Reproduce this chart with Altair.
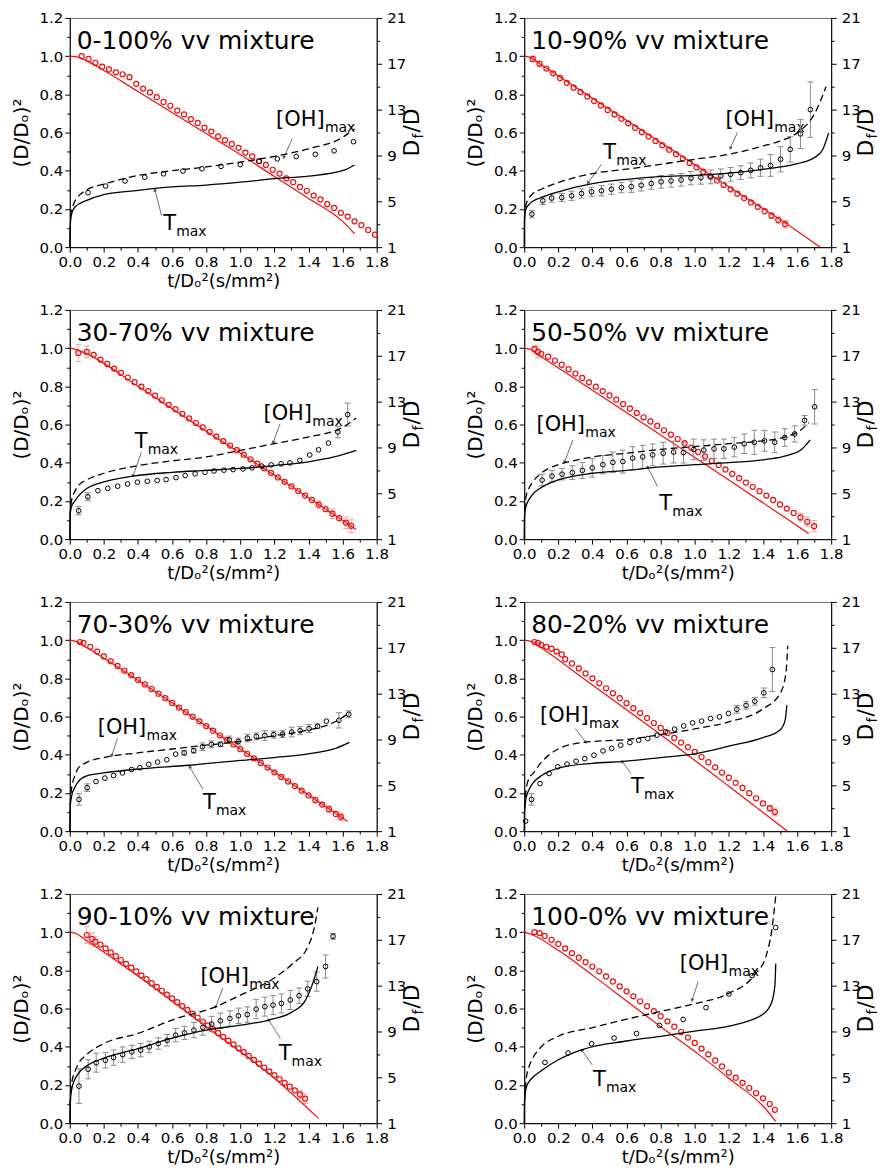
import math
import altair as alt
import pandas as pd

# ---------------- tick values / labels ----------------
X_TICKS = [0.0, 0.1, 0.2, 0.3, 0.4, 0.5, 0.6, 0.7, 0.8, 0.9, 1.0, 1.1, 1.2, 1.3, 1.4, 1.5, 1.6, 1.7, 1.8]
YL_TICKS = [0.0, 0.1, 0.2, 0.3, 0.4, 0.5, 0.6, 0.7, 0.8, 0.9, 1.0, 1.1, 1.2]
YR_TICKS = [1, 3, 5, 7, 9, 11, 13, 15, 17, 19, 21]

LABELS = ["0-100% vv mixture", "10-90% vv mixture", "30-70% vv mixture", "50-50% vv mixture",
          "70-30% vv mixture", "80-20% vv mixture", "90-10% vv mixture", "100-0% vv mixture"]

# ---------------- panel 1 : 0-100% ----------------
P1_RED_X = [0.07, 0.11, 0.15, 0.19, 0.23, 0.27, 0.31, 0.35, 0.39, 0.43, 0.47, 0.51, 0.55, 0.59, 0.63, 0.67, 0.71, 0.75, 0.79, 0.83, 0.87, 0.91, 0.95, 0.99, 1.03, 1.07, 1.11, 1.15, 1.19, 1.23, 1.27, 1.31, 1.35, 1.39, 1.43, 1.47, 1.51, 1.55, 1.59, 1.63, 1.67, 1.71, 1.75, 1.79]
P1_RED_Y = [1.0, 0.985, 0.965, 0.945, 0.93, 0.915, 0.905, 0.89, 0.855, 0.83, 0.81, 0.785, 0.76, 0.74, 0.715, 0.695, 0.67, 0.65, 0.625, 0.605, 0.58, 0.56, 0.54, 0.52, 0.495, 0.475, 0.45, 0.43, 0.405, 0.385, 0.36, 0.34, 0.315, 0.295, 0.27, 0.25, 0.225, 0.205, 0.18, 0.16, 0.135, 0.115, 0.09, 0.065]
P1_FIT_X = [0.0, 0.05, 0.1, 0.2, 0.4, 0.6, 0.8, 1.0, 1.2, 1.4, 1.6, 1.67]
P1_FIT_Y = [1.0, 0.995, 0.975, 0.925, 0.815, 0.705, 0.595, 0.485, 0.37, 0.255, 0.135, 0.07]
P1_REB_X, P1_REB_Y, P1_REB_E = [], [], []
P1_DF_X = [0.107, 0.21, 0.324, 0.44, 0.55, 0.664, 0.775, 0.887, 1.0, 1.11, 1.217, 1.328, 1.44, 1.55, 1.664]
P1_DF_Y = [5.75, 6.33, 6.77, 7.1, 7.4, 7.64, 7.84, 8.05, 8.2, 8.5, 8.7, 8.9, 9.1, 9.4, 10.2]
P1_DF_E = [0, 0, 0, 0, 0, 0, 0, 0, 0, 0, 0, 0, 0, 0, 0]
P1_T_X = [0.0, 0.002, 0.01, 0.03, 0.1, 0.2, 0.4, 0.6, 0.8, 1.0, 1.2, 1.4, 1.6, 1.67]
P1_T_Y = [1.0, 2.67, 3.83, 4.5, 5.08, 5.58, 5.95, 6.25, 6.42, 6.67, 6.97, 7.2, 7.67, 8.17]
P1_OH_X = [0.003, 0.02, 0.05, 0.1, 0.2, 0.4, 0.6, 0.8, 1.0, 1.2, 1.4, 1.6, 1.67]
P1_OH_Y = [3.67, 4.67, 5.42, 6.0, 6.5, 7.25, 7.67, 8.0, 8.42, 8.92, 9.58, 10.58, 11.33]

# ---------------- panel 2 : 10-90% ----------------
P2_RED_X = [0.05, 0.09, 0.13, 0.17, 0.21, 0.25, 0.29, 0.33, 0.37, 0.41, 0.45, 0.49, 0.53, 0.57, 0.61, 0.65, 0.69, 0.73, 0.77, 0.81, 0.85, 0.89, 0.93, 0.97, 1.01, 1.05, 1.09, 1.13, 1.17, 1.21, 1.25, 1.29, 1.33, 1.37, 1.41, 1.45, 1.49, 1.53]
P2_RED_Y = [0.985, 0.96, 0.935, 0.91, 0.885, 0.86, 0.835, 0.812, 0.789, 0.765, 0.742, 0.718, 0.695, 0.672, 0.648, 0.625, 0.602, 0.579, 0.556, 0.533, 0.51, 0.487, 0.464, 0.441, 0.418, 0.395, 0.372, 0.349, 0.326, 0.303, 0.28, 0.257, 0.234, 0.211, 0.188, 0.165, 0.142, 0.12]
P2_FIT_X = [0.0, 0.03, 0.1, 0.4, 0.8, 1.2, 1.6, 1.735]
P2_FIT_Y = [1.0, 0.995, 0.955, 0.78, 0.548, 0.316, 0.085, 0.0]
P2_REB_X = [0.05, 0.09, 1.45, 1.49, 1.53]
P2_REB_Y = [0.985, 0.96, 0.165, 0.142, 0.12]
P2_REB_E = [0.015, 0.015, 0.015, 0.02, 0.02]
P2_DF_X = [0.045, 0.109, 0.161, 0.22, 0.278, 0.336, 0.395, 0.453, 0.511, 0.57, 0.628, 0.686, 0.745, 0.803, 0.861, 0.92, 0.978, 1.036, 1.094, 1.153, 1.21, 1.27, 1.328, 1.386, 1.444, 1.503, 1.56, 1.62, 1.678]
P2_DF_Y = [3.88, 5.05, 5.28, 5.33, 5.48, 5.68, 5.83, 5.92, 6.05, 6.2, 6.28, 6.4, 6.55, 6.7, 6.78, 6.87, 7.02, 7.07, 7.13, 7.22, 7.35, 7.5, 7.7, 7.93, 8.13, 8.67, 9.53, 10.88, 13.0]
P2_DF_E = [0.33, 0.33, 0.35, 0.35, 0.4, 0.4, 0.4, 0.45, 0.45, 0.45, 0.5, 0.5, 0.5, 0.55, 0.55, 0.55, 0.58, 0.58, 0.6, 0.6, 0.6, 0.6, 0.65, 0.75, 0.95, 1.1, 1.1, 1.27, 2.42]
P2_T_X = [0.0, 0.002, 0.01, 0.03, 0.05, 0.1, 0.2, 0.4, 0.6, 0.8, 1.0, 1.2, 1.4, 1.6, 1.7, 1.75, 1.785]
P2_T_Y = [1.0, 3.83, 4.33, 4.75, 5.0, 5.33, 5.83, 6.55, 6.92, 7.15, 7.27, 7.45, 7.78, 8.28, 8.8, 9.5, 10.97]
P2_OH_X = [0.002, 0.01, 0.03, 0.05, 0.1, 0.2, 0.4, 0.6, 0.8, 1.0, 1.2, 1.4, 1.5, 1.6, 1.7, 1.77]
P2_OH_Y = [3.5, 4.67, 5.33, 5.67, 6.05, 6.63, 7.42, 7.8, 8.23, 8.67, 9.1, 9.83, 10.25, 10.97, 12.57, 15.0]

# ---------------- panel 3 : 30-70% ----------------
P3_RED_X = [0.05, 0.10, 0.14, 0.18, 0.22, 0.26, 0.30, 0.34, 0.38, 0.42, 0.46, 0.50, 0.54, 0.58, 0.62, 0.66, 0.70, 0.74, 0.78, 0.82, 0.86, 0.90, 0.94, 0.98, 1.02, 1.06, 1.10, 1.14, 1.18, 1.22, 1.26, 1.30, 1.34, 1.38, 1.42, 1.46, 1.50, 1.54, 1.58, 1.62, 1.65]
P3_RED_Y = [0.975, 0.98, 0.965, 0.94, 0.917, 0.893, 0.87, 0.846, 0.822, 0.798, 0.775, 0.751, 0.727, 0.703, 0.68, 0.656, 0.632, 0.608, 0.585, 0.561, 0.537, 0.513, 0.49, 0.466, 0.442, 0.418, 0.395, 0.371, 0.347, 0.323, 0.3, 0.276, 0.252, 0.228, 0.205, 0.181, 0.157, 0.133, 0.11, 0.086, 0.07]
P3_FIT_X = [0.0, 0.03, 0.1, 0.4, 0.8, 1.2, 1.68]
P3_FIT_Y = [1.0, 0.995, 0.97, 0.8, 0.565, 0.335, 0.05]
P3_REB_X = [0.05, 0.10, 1.46, 1.54, 1.62, 1.65]
P3_REB_Y = [0.975, 0.98, 0.181, 0.133, 0.086, 0.07]
P3_REB_E = [0.045, 0.03, 0.02, 0.025, 0.03, 0.035]
P3_DF_X = [0.052, 0.106, 0.165, 0.223, 0.281, 0.339, 0.397, 0.455, 0.513, 0.565, 0.623, 0.677, 0.735, 0.793, 0.846, 0.904, 0.958, 1.016, 1.068, 1.126, 1.181, 1.239, 1.291, 1.349, 1.407, 1.459, 1.517, 1.572, 1.63]
P3_DF_Y = [3.48, 4.7, 5.23, 5.43, 5.62, 5.82, 5.97, 6.05, 6.12, 6.2, 6.37, 6.55, 6.7, 6.83, 6.95, 7.02, 7.07, 7.13, 7.22, 7.37, 7.48, 7.57, 7.65, 7.88, 8.35, 8.8, 9.38, 10.35, 11.87]
P3_DF_E = [0.35, 0.35, 0, 0, 0, 0, 0, 0, 0, 0, 0, 0, 0, 0, 0, 0, 0, 0, 0, 0, 0, 0, 0, 0, 0, 0, 0, 0.5, 1.0]
P3_T_X = [0.0, 0.002, 0.01, 0.03, 0.05, 0.1, 0.2, 0.37, 0.6, 0.8, 1.0, 1.2, 1.4, 1.55, 1.68]
P3_T_Y = [1.0, 3.17, 3.83, 4.33, 4.75, 5.42, 6.0, 6.5, 6.83, 7.0, 7.17, 7.42, 7.75, 8.17, 8.75]
P3_OH_X = [0.002, 0.01, 0.03, 0.05, 0.1, 0.2, 0.4, 0.6, 0.8, 1.0, 1.2, 1.4, 1.6, 1.68]
P3_OH_Y = [3.0, 4.33, 5.17, 5.67, 6.17, 6.75, 7.42, 7.83, 8.17, 8.75, 9.33, 9.92, 10.75, 11.58]

# ---------------- panel 4 : 50-50% ----------------
P4_RED_X = [0.06, 0.08, 0.10, 0.14, 0.18, 0.22, 0.26, 0.30, 0.34, 0.38, 0.42, 0.46, 0.50, 0.54, 0.58, 0.62, 0.66, 0.70, 0.74, 0.78, 0.82, 0.86, 0.90, 0.94, 0.98, 1.02, 1.06, 1.10, 1.14, 1.18, 1.22, 1.26, 1.30, 1.34, 1.38, 1.42, 1.46, 1.50, 1.54, 1.58, 1.62, 1.66, 1.70]
P4_RED_Y = [0.995, 0.98, 0.97, 0.955, 0.935, 0.913, 0.89, 0.867, 0.844, 0.821, 0.798, 0.775, 0.752, 0.73, 0.707, 0.684, 0.661, 0.638, 0.616, 0.593, 0.57, 0.547, 0.524, 0.502, 0.479, 0.456, 0.433, 0.41, 0.388, 0.365, 0.342, 0.319, 0.296, 0.274, 0.251, 0.228, 0.205, 0.182, 0.16, 0.137, 0.114, 0.091, 0.068]
P4_FIT_X = [0.0, 0.03, 0.1, 0.4, 0.8, 1.2, 1.668]
P4_FIT_Y = [1.0, 0.995, 0.955, 0.78, 0.545, 0.31, 0.03]
P4_REB_X = [0.06, 0.08, 1.62, 1.66, 1.70]
P4_REB_Y = [0.995, 0.98, 0.114, 0.091, 0.068]
P4_REB_E = [0.02, 0.03, 0.02, 0.025, 0.03]
P4_DF_X = [0.105, 0.163, 0.222, 0.282, 0.341, 0.399, 0.461, 0.52, 0.578, 0.636, 0.695, 0.753, 0.815, 0.876, 0.934, 0.994, 1.053, 1.113, 1.171, 1.232, 1.29, 1.349, 1.409, 1.469, 1.528, 1.586, 1.644, 1.703]
P4_DF_Y = [6.15, 6.5, 6.67, 6.8, 7.0, 7.22, 7.5, 7.7, 7.77, 8.07, 8.18, 8.35, 8.5, 8.6, 8.55, 8.83, 8.77, 8.88, 8.88, 9.03, 9.32, 9.45, 9.58, 9.45, 9.87, 10.18, 11.37, 12.55]
P4_DF_E = [0.5, 0.5, 0.5, 0.6, 0.7, 0.8, 0.8, 0.9, 1.0, 1.0, 1.0, 0.95, 0.95, 0.95, 0.9, 0.9, 0.9, 0.85, 0.85, 0.85, 0.85, 1.05, 0.9, 0.9, 0.77, 0.7, 0.42, 1.5]
P4_T_X = [0.0, 0.002, 0.01, 0.03, 0.05, 0.1, 0.2, 0.4, 0.6, 0.8, 1.0, 1.2, 1.4, 1.55, 1.62, 1.677]
P4_T_Y = [1.0, 3.0, 3.83, 4.5, 4.92, 5.5, 6.17, 6.75, 7.0, 7.3, 7.5, 7.67, 7.92, 8.33, 8.75, 9.67]
P4_OH_X = [0.002, 0.01, 0.03, 0.05, 0.1, 0.2, 0.24, 0.4, 0.6, 0.8, 1.0, 1.2, 1.4, 1.55, 1.62, 1.67]
P4_OH_Y = [3.5, 4.67, 5.5, 6.0, 6.75, 7.5, 7.67, 8.17, 8.5, 8.83, 9.08, 9.33, 9.58, 10.0, 10.5, 11.17]

# ---------------- panel 5 : 70-30% ----------------
P5_RED_X = [0.06, 0.08, 0.12, 0.16, 0.20, 0.24, 0.28, 0.32, 0.36, 0.40, 0.44, 0.48, 0.52, 0.56, 0.60, 0.64, 0.68, 0.72, 0.76, 0.80, 0.84, 0.88, 0.92, 0.96, 1.00, 1.04, 1.08, 1.12, 1.16, 1.20, 1.24, 1.28, 1.32, 1.36, 1.40, 1.44, 1.48, 1.52, 1.56, 1.59]
P5_RED_Y = [0.99, 0.985, 0.965, 0.94, 0.915, 0.89, 0.865, 0.841, 0.817, 0.792, 0.768, 0.744, 0.72, 0.696, 0.671, 0.647, 0.623, 0.599, 0.575, 0.55, 0.526, 0.502, 0.478, 0.454, 0.429, 0.405, 0.381, 0.357, 0.333, 0.308, 0.284, 0.26, 0.236, 0.212, 0.187, 0.163, 0.139, 0.115, 0.09, 0.075]
P5_FIT_X = [0.0, 0.03, 0.1, 0.4, 0.8, 1.2, 1.63]
P5_FIT_Y = [1.0, 0.995, 0.96, 0.79, 0.55, 0.31, 0.05]
P5_REB_X = [1.44, 1.52, 1.59]
P5_REB_Y = [0.163, 0.115, 0.075]
P5_REB_E = [0.015, 0.02, 0.02]
P5_DF_X = [0.054, 0.102, 0.154, 0.206, 0.257, 0.309, 0.363, 0.411, 0.463, 0.515, 0.569, 0.621, 0.671, 0.727, 0.778, 0.83, 0.884, 0.936, 0.988, 1.042, 1.094, 1.144, 1.196, 1.248, 1.302, 1.351, 1.403, 1.453, 1.505, 1.578, 1.636]
P5_DF_Y = [3.77, 4.8, 5.33, 5.63, 5.85, 6.08, 6.38, 6.53, 6.83, 7.03, 7.23, 7.72, 7.83, 8.02, 8.37, 8.58, 8.58, 8.97, 8.82, 9.12, 9.27, 9.35, 9.42, 9.47, 9.65, 9.77, 9.95, 10.15, 10.6, 10.67, 11.2]
P5_DF_E = [0.5, 0.33, 0, 0, 0, 0, 0, 0, 0, 0, 0, 0, 0.2, 0.2, 0.33, 0.3, 0.2, 0.33, 0.3, 0.33, 0.3, 0.42, 0.3, 0.3, 0.42, 0.35, 0.35, 0.2, 0, 0.67, 0.3]
P5_T_X = [0.0, 0.002, 0.01, 0.03, 0.05, 0.1, 0.2, 0.4, 0.7, 1.0, 1.2, 1.4, 1.55, 1.64]
P5_T_Y = [1.0, 3.0, 4.0, 4.83, 5.33, 5.83, 6.08, 6.42, 6.75, 7.17, 7.42, 7.75, 8.17, 8.75]
P5_OH_X = [0.002, 0.01, 0.03, 0.05, 0.1, 0.2, 0.4, 0.6, 0.8, 1.0, 1.2, 1.4, 1.55, 1.64]
P5_OH_Y = [3.33, 4.67, 5.83, 6.5, 7.0, 7.42, 7.83, 8.17, 8.5, 8.83, 9.33, 9.83, 10.5, 11.33]

# ---------------- panel 6 : 80-20% ----------------
P6_RED_X = [0.06, 0.08, 0.10, 0.13, 0.16, 0.19, 0.22, 0.24, 0.28, 0.32, 0.36, 0.40, 0.44, 0.48, 0.52, 0.56, 0.60, 0.64, 0.68, 0.72, 0.76, 0.80, 0.84, 0.88, 0.92, 0.96, 1.00, 1.04, 1.08, 1.12, 1.16, 1.20, 1.24, 1.28, 1.32, 1.36, 1.40, 1.44, 1.47]
P6_RED_Y = [0.99, 0.985, 0.975, 0.965, 0.955, 0.94, 0.925, 0.9, 0.878, 0.852, 0.826, 0.8, 0.774, 0.748, 0.722, 0.696, 0.67, 0.644, 0.618, 0.592, 0.566, 0.54, 0.514, 0.488, 0.464, 0.44, 0.415, 0.388, 0.361, 0.334, 0.307, 0.28, 0.253, 0.226, 0.199, 0.172, 0.145, 0.12, 0.1]
P6_FIT_X = [0.0, 0.05, 0.1, 0.4, 0.8, 1.2, 1.543]
P6_FIT_Y = [1.0, 0.99, 0.96, 0.765, 0.505, 0.235, 0.0]
P6_REB_X = [1.44, 1.47]
P6_REB_Y = [0.12, 0.1]
P6_REB_E = [0.015, 0.02]
P6_DF_X = [0.008, 0.043, 0.093, 0.146, 0.197, 0.251, 0.304, 0.355, 0.409, 0.462, 0.513, 0.566, 0.62, 0.671, 0.724, 0.778, 0.829, 0.882, 0.935, 0.987, 1.04, 1.093, 1.145, 1.198, 1.247, 1.301, 1.352, 1.405, 1.455]
P6_DF_Y = [1.87, 3.77, 5.15, 6.03, 6.62, 6.85, 7.1, 7.33, 7.63, 8.0, 8.22, 8.5, 8.73, 8.93, 9.08, 9.37, 9.67, 9.9, 10.18, 10.45, 10.6, 10.83, 10.97, 11.27, 11.63, 11.98, 12.33, 13.07, 15.1]
P6_DF_E = [0, 0.5, 0, 0, 0, 0, 0, 0, 0, 0, 0, 0, 0, 0, 0, 0, 0, 0, 0, 0, 0, 0, 0, 0, 0.33, 0.33, 0.33, 0.42, 1.92]
P6_T_X = [0.0, 0.002, 0.01, 0.03, 0.05, 0.1, 0.2, 0.4, 0.58, 0.8, 1.0, 1.2, 1.4, 1.5, 1.53, 1.54]
P6_T_Y = [1.0, 2.67, 3.83, 4.67, 5.17, 5.83, 6.5, 6.92, 7.08, 7.42, 7.75, 8.42, 9.17, 9.83, 10.67, 12.0]
P6_OH_X = [0.002, 0.01, 0.03, 0.05, 0.1, 0.2, 0.35, 0.6, 0.8, 1.0, 1.2, 1.4, 1.5, 1.535, 1.545]
P6_OH_Y = [3.0, 4.5, 5.67, 6.0, 7.0, 8.17, 8.75, 9.0, 9.42, 9.92, 10.53, 11.67, 13.0, 14.83, 17.17]

# ---------------- panel 7 : 90-10% ----------------
P7_RED_X = [0.10, 0.13, 0.15, 0.18, 0.21, 0.24, 0.27, 0.30, 0.33, 0.36, 0.39, 0.42, 0.45, 0.48, 0.51, 0.54, 0.57, 0.60, 0.63, 0.66, 0.69, 0.72, 0.75, 0.78, 0.81, 0.84, 0.87, 0.90, 0.93, 0.96, 0.99, 1.02, 1.05, 1.08, 1.11, 1.14, 1.17, 1.20, 1.23, 1.26, 1.29, 1.32, 1.35, 1.38]
P7_RED_Y = [0.985, 0.965, 0.95, 0.935, 0.915, 0.894, 0.874, 0.854, 0.834, 0.814, 0.794, 0.774, 0.754, 0.733, 0.713, 0.693, 0.673, 0.653, 0.633, 0.613, 0.593, 0.573, 0.553, 0.532, 0.512, 0.492, 0.472, 0.452, 0.432, 0.412, 0.392, 0.372, 0.352, 0.331, 0.311, 0.291, 0.271, 0.251, 0.231, 0.211, 0.191, 0.171, 0.15, 0.128]
P7_FIT_X = [0.0, 0.03, 0.1, 0.4, 0.8, 1.2, 1.457]
P7_FIT_Y = [1.0, 0.995, 0.955, 0.77, 0.505, 0.235, 0.026]
P7_REB_X = [0.10, 0.13, 0.15, 1.35, 1.38]
P7_REB_Y = [0.985, 0.965, 0.95, 0.15, 0.128]
P7_REB_E = [0.045, 0.03, 0.025, 0.02, 0.025]
P7_DF_X = [0.054, 0.108, 0.155, 0.209, 0.257, 0.31, 0.364, 0.416, 0.466, 0.519, 0.571, 0.621, 0.673, 0.728, 0.78, 0.832, 0.883, 0.939, 0.989, 1.041, 1.093, 1.144, 1.192, 1.241, 1.293, 1.345, 1.395, 1.448, 1.5, 1.544]
P7_DF_Y = [4.23, 5.7, 6.28, 6.48, 6.72, 6.98, 7.22, 7.37, 7.65, 7.95, 8.23, 8.68, 8.88, 9.12, 9.35, 9.65, 9.93, 10.13, 10.37, 10.48, 10.95, 11.17, 11.3, 11.45, 11.75, 12.12, 12.72, 13.35, 14.67, 17.3]
P7_DF_E = [1.5, 0.83, 0.83, 0.67, 0.67, 0.67, 0.58, 0.58, 0.5, 0.5, 0.5, 0.58, 0.58, 0.67, 0.67, 0.67, 0.67, 0.67, 0.67, 0.67, 0.83, 0.83, 0.83, 0.83, 0.83, 0.67, 0.67, 0.83, 1.0, 0.25]
P7_T_X = [0.0, 0.002, 0.01, 0.03, 0.05, 0.1, 0.2, 0.4, 0.6, 0.8, 1.0, 1.167, 1.3, 1.38, 1.42, 1.455]
P7_T_Y = [1.0, 2.5, 3.83, 4.83, 5.33, 6.0, 6.67, 7.5, 8.42, 9.12, 9.55, 10.0, 10.67, 11.67, 13.0, 14.67]
P7_OH_X = [0.002, 0.01, 0.03, 0.05, 0.1, 0.2, 0.4, 0.6, 0.857, 1.0, 1.2, 1.3, 1.4, 1.44, 1.455]
P7_OH_Y = [2.67, 4.33, 5.5, 6.17, 7.0, 7.95, 8.83, 10.0, 11.17, 12.17, 13.67, 14.83, 16.5, 18.5, 19.83]

# ---------------- panel 8 : 100-0% ----------------
P8_RED_X = [0.06, 0.09, 0.12, 0.16, 0.20, 0.24, 0.28, 0.32, 0.36, 0.40, 0.44, 0.48, 0.52, 0.56, 0.60, 0.64, 0.68, 0.72, 0.76, 0.80, 0.84, 0.88, 0.92, 0.96, 1.00, 1.04, 1.08, 1.12, 1.16, 1.20, 1.24, 1.28, 1.32, 1.36, 1.40, 1.44, 1.47]
P8_RED_Y = [1.0, 0.995, 0.98, 0.96, 0.938, 0.915, 0.89, 0.866, 0.843, 0.82, 0.795, 0.768, 0.742, 0.716, 0.69, 0.664, 0.638, 0.612, 0.586, 0.56, 0.533, 0.505, 0.477, 0.448, 0.42, 0.39, 0.36, 0.328, 0.297, 0.265, 0.238, 0.211, 0.184, 0.157, 0.13, 0.1, 0.07]
P8_FIT_X = [0.0, 0.05, 0.2, 0.4, 0.6, 0.8, 1.0, 1.18, 1.2, 1.4, 1.475]
P8_FIT_Y = [1.0, 0.985, 0.905, 0.775, 0.64, 0.505, 0.375, 0.25, 0.235, 0.09, 0.01]
P8_REB_X, P8_REB_Y, P8_REB_E = [], [], []
P8_DF_X = [0.122, 0.257, 0.395, 0.527, 0.659, 0.793, 0.932, 1.066, 1.2, 1.336, 1.474]
P8_DF_Y = [6.3, 7.12, 7.93, 8.43, 8.82, 9.53, 10.05, 11.08, 12.27, 13.88, 18.07]
P8_DF_E = [0, 0, 0, 0, 0, 0, 0, 0, 0, 0, 0]
P8_T_X = [0.0, 0.002, 0.01, 0.03, 0.05, 0.1, 0.2, 0.34, 0.6, 0.8, 1.0, 1.2, 1.4, 1.45, 1.47, 1.475]
P8_T_Y = [1.0, 3.0, 4.0, 4.67, 5.0, 5.58, 6.53, 7.42, 8.17, 8.58, 9.03, 9.47, 10.5, 11.5, 13.0, 14.92]
P8_OH_X = [0.002, 0.01, 0.03, 0.05, 0.1, 0.2, 0.4, 0.6, 0.8, 1.0, 1.2, 1.35, 1.42, 1.45, 1.475]
P8_OH_Y = [3.0, 4.67, 6.0, 6.67, 7.67, 8.58, 9.33, 10.07, 10.75, 11.42, 12.33, 13.92, 15.67, 17.67, 20.83]

# annotation anchors (left-axis units): text x, text y, arrow start x/y, arrow end x/y
OH_NOTES = [(1.21, 0.664, 1.305, 0.568, 1.256, 0.472), (1.18, 0.667, 1.25, 0.60, 1.21, 0.52),
            (1.136, 0.657, 1.233, 0.604, 1.194, 0.508), (0.072, 0.597, 0.286, 0.52, 0.237, 0.406),
            (0.164, 0.54, 0.28, 0.486, 0.247, 0.398), (0.093, 0.602, 0.3, 0.537, 0.359, 0.467),
            (0.766, 0.767, 0.896, 0.706, 0.857, 0.61), (0.912, 0.835, 1.02, 0.741, 0.985, 0.646)]
T_NOTES = [(0.548, 0.119, 0.538, 0.166, 0.5, 0.297), (0.463, 0.494, 0.453, 0.434, 0.375, 0.338),
           (0.381, 0.508, 0.42, 0.455, 0.372, 0.333), (0.792, 0.183, 0.782, 0.275, 0.724, 0.377),
           (0.781, 0.148, 0.781, 0.219, 0.704, 0.335), (0.626, 0.232, 0.626, 0.302, 0.576, 0.363),
           (1.225, 0.364, 1.235, 0.443, 1.167, 0.54), (0.403, 0.226, 0.399, 0.305, 0.339, 0.381)]

G = globals()
PANELS = []
for k in range(1, 9):
    PANELS.append({key: G[f"P{k}_{key}"] for key in
                   ["RED_X", "RED_Y", "FIT_X", "FIT_Y", "REB_X", "REB_Y", "REB_E",
                    "DF_X", "DF_Y", "DF_E", "T_X", "T_Y", "OH_X", "OH_Y"]})

# ---------------- styling ----------------
W, H = 308, 230
FONT = "DejaVu Sans"
RED = "#f00d0d"
RED_LIGHT = "#f3a3a3"
GREY = "#8a8a8a"
ARROW = "#4a4a4a"

XS = alt.Scale(domain=[0, 1.8], nice=False, zero=False)
YLS = alt.Scale(domain=[0, 1.2], nice=False, zero=False)
YRS = alt.Scale(domain=[1, 21], nice=False, zero=False)


def x_axis(with_title):
    kw = dict(values=X_TICKS, orient="bottom",
              labelExpr="round(datum.value*10) % 2 == 0 ? format(datum.value, '.1f') : ''",
              tickSize={"condition": {"test": "round(datum.value*10) % 2 == 1", "value": 3}, "value": 5},
              labelFlush=False, labelOverlap=False, labelPadding=2, titlePadding=3)
    kw["title"] = "t/D\u2092\u00b2(s/mm\u00b2)" if with_title else None
    return alt.Axis(**kw)


YL_AXIS = alt.Axis(values=YL_TICKS, orient="left", title="(D/D\u2092)\u00b2",
                   labelExpr="round(datum.value*10) % 2 == 0 ? format(datum.value, '.1f') : ''",
                   tickSize={"condition": {"test": "round(datum.value*10) % 2 == 1", "value": 3}, "value": 5},
                   labelOverlap=False, labelPadding=2, titlePadding=8)
YR_AXIS = alt.Axis(values=YR_TICKS, orient="right", title=None,
                   labelExpr="(round(datum.value) - 1) % 4 == 0 ? format(datum.value, 'd') : ''",
                   tickSize={"condition": {"test": "(round(datum.value) - 1) % 4 != 0", "value": 3}, "value": 5},
                   labelOverlap=False, labelPadding=5)


def head_angle(x1, y1, x2, y2):
    dxp = (x2 - x1) * W / 1.8
    dyp = -(y2 - y1) * H / 1.2
    return math.degrees(math.atan2(dxp, -dyp)) % 360


def build_panel(i, p):
    xax = x_axis(i != 1)

    def X(f):
        return alt.X(f, type="quantitative", scale=XS, axis=xax)

    def YL(f):
        return alt.Y(f, type="quantitative", scale=YLS, axis=YL_AXIS)

    def YR(f):
        return alt.Y(f, type="quantitative", scale=YRS, axis=YR_AXIS)

    one = pd.DataFrame({"a": [0]})

    # ---------- left-axis group ----------
    left = []
    if p["REB_X"]:
        reb = pd.DataFrame({"x": p["REB_X"], "lo": [y - e for y, e in zip(p["REB_Y"], p["REB_E"])],
                            "hi": [y + e for y, e in zip(p["REB_Y"], p["REB_E"])]})
        left.append(alt.Chart(reb).mark_rule(color=RED_LIGHT, strokeWidth=1)
                    .encode(x=X("x"), y=YL("lo"), y2=alt.Y2("hi")))
        for f in ["lo", "hi"]:
            left.append(alt.Chart(reb).mark_tick(orient="horizontal", size=6, thickness=1,
                                                 color=RED_LIGHT, opacity=1)
                        .encode(x=X("x"), y=YL(f)))
    fit = pd.DataFrame({"x": p["FIT_X"], "y": p["FIT_Y"]})
    left.append(alt.Chart(fit).mark_line(color=RED, strokeWidth=1.2, interpolate="monotone")
                .encode(x=X("x"), y=YL("y")))
    red = pd.DataFrame({"x": p["RED_X"], "y": p["RED_Y"]})
    left.append(alt.Chart(red).mark_point(shape="circle", filled=False, color=RED, size=26,
                                          strokeWidth=1.2, opacity=1)
                .encode(x=X("x"), y=YL("y")))

    oh = OH_NOTES[i]
    tn = T_NOTES[i]
    notes = pd.DataFrame({"tx": [oh[0], tn[0]], "ty": [oh[1], tn[1]],
                          "x1": [oh[2], tn[2]], "y1": [oh[3], tn[3]],
                          "x2": [oh[4], tn[4]], "y2": [oh[5], tn[5]],
                          "ang": [head_angle(*oh[2:]), head_angle(*tn[2:])],
                          "main": ["[OH]", "T"]})
    left.append(alt.Chart(notes).mark_rule(color=ARROW, strokeWidth=0.8)
                .encode(x=X("x1"), y=YL("y1"), x2=alt.X2("x2"), y2=alt.Y2("y2")))
    left.append(alt.Chart(notes).mark_point(shape="triangle", filled=True, color=ARROW, size=14, opacity=1)
                .encode(x=X("x2"), y=YL("y2"), angle=alt.Angle("ang", type="quantitative", scale=None)))
    left.append(alt.Chart(notes).mark_text(align="left", baseline="middle", font=FONT, fontSize=21,
                                           color="black")
                .encode(x=X("tx"), y=YL("ty"), text=alt.Text("main", type="nominal")))
    left.append(alt.Chart(notes.iloc[[0]]).mark_text(align="left", baseline="middle", font=FONT,
                                                     fontSize=14, color="black", dx=49, dy=8, text="max")
                .encode(x=X("tx"), y=YL("ty")))
    left.append(alt.Chart(notes.iloc[[1]]).mark_text(align="left", baseline="middle", font=FONT,
                                                     fontSize=14, color="black", dx=13, dy=8, text="max")
                .encode(x=X("tx"), y=YL("ty")))
    left.append(alt.Chart(one).mark_text(align="left", baseline="alphabetic", font=FONT, fontSize=25,
                                         color="black", text=LABELS[i])
                .encode(x=alt.value(7), y=alt.value(31)))

    # ---------- right-axis group ----------
    right = []
    dfd = pd.DataFrame({"x": p["DF_X"], "y": p["DF_Y"], "e": p["DF_E"]})
    eb = dfd[dfd["e"] > 0].copy()
    if len(eb):
        eb["lo"] = eb["y"] - eb["e"]
        eb["hi"] = eb["y"] + eb["e"]
        right.append(alt.Chart(eb).mark_rule(color=GREY, strokeWidth=1)
                     .encode(x=X("x"), y=YR("lo"), y2=alt.Y2("hi")))
        for f in ["lo", "hi"]:
            right.append(alt.Chart(eb).mark_tick(orient="horizontal", size=6, thickness=1,
                                                 color=GREY, opacity=1)
                         .encode(x=X("x"), y=YR(f)))
    tmax = pd.DataFrame({"x": p["T_X"], "y": p["T_Y"]})
    right.append(alt.Chart(tmax).mark_line(color="black", strokeWidth=1.3, interpolate="monotone")
                 .encode(x=X("x"), y=YR("y")))
    ohm = pd.DataFrame({"x": p["OH_X"], "y": p["OH_Y"]})
    right.append(alt.Chart(ohm).mark_line(color="black", strokeWidth=1.3, strokeDash=[7, 4],
                                          interpolate="monotone")
                 .encode(x=X("x"), y=YR("y")))
    right.append(alt.Chart(dfd).mark_point(shape="circle", filled=False, color="black", size=22,
                                           strokeWidth=1, opacity=1)
                 .encode(x=X("x"), y=YR("y")))
    # right axis title  D_f/D  (rotated, with subscript f)
    bx = W + 42
    right.append(alt.Chart(one).mark_text(angle=270, align="left", baseline="alphabetic", font=FONT,
                                          fontSize=22, color="black", text="D")
                 .encode(x=alt.value(bx), y=alt.value(139)))
    right.append(alt.Chart(one).mark_text(angle=270, align="left", baseline="alphabetic", font=FONT,
                                          fontSize=14, color="black", text="f")
                 .encode(x=alt.value(bx + 4), y=alt.value(121)))
    right.append(alt.Chart(one).mark_text(angle=270, align="left", baseline="alphabetic", font=FONT,
                                          fontSize=22, color="black", text="/D")
                 .encode(x=alt.value(bx), y=alt.value(115)))

    return (alt.layer(alt.layer(*left), alt.layer(*right))
            .resolve_scale(y="independent")
            .properties(width=W, height=H))


charts = [build_panel(i, p) for i, p in enumerate(PANELS)]

chart = (alt.concat(*charts, columns=2, spacing={"row": 63, "column": 148}, bounds="flush")
         .properties(padding={"left": 10, "top": 8, "right": 0, "bottom": 0})
         .configure_axis(labelFont=FONT, labelFontSize=15, labelColor="black", titleFont=FONT,
                         titleFontWeight="normal", titleColor="black", domainColor="black",
                         tickColor="black", domainWidth=1, tickWidth=1, grid=False)
         .configure_axisX(titleFontSize=18)
         .configure_axisY(titleFontSize=20)
         .configure_view(stroke="#666666", strokeWidth=1))

chart.save("out.html", embed_options={"renderer": "svg", "actions": False})
